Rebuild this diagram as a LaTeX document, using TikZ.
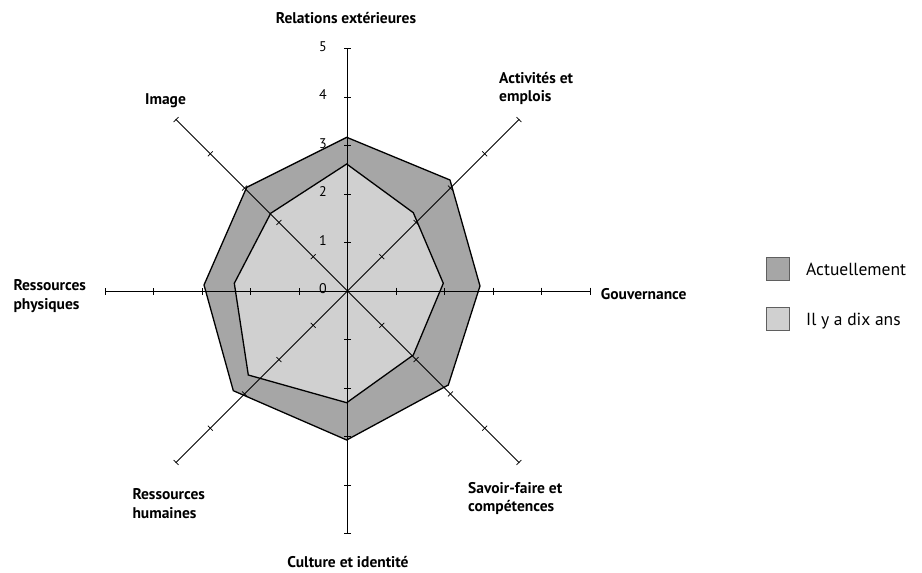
\documentclass[tikz,border=0pt]{standalone}
\usepackage{fontspec}
\setmainfont{PT Sans}
\definecolor{nowfill}{RGB}{166,166,166}
\definecolor{pastfill}{RGB}{208,208,208}
\definecolor{keyedge}{RGB}{95,95,95}
\begin{document}
\begin{tikzpicture}[x=1pt,y=-1pt,
  axisline/.style={line width=0.9pt,black},
  tickline/.style={line width=0.7pt,black},
  polyline/.style={line width=1.3pt,black,line join=miter},
  axislabel/.style={font=\fontsize{15.5}{18.5}\selectfont\bfseries,inner sep=0pt,align=left},
  scalelabel/.style={font=\fontsize{14}{16}\selectfont,inner sep=0pt},
  keybox/.style={draw=keyedge,line width=1pt,minimum size=23pt,inner sep=0pt},
  keytext/.style={font=\fontsize{17.5}{20}\selectfont,inner sep=0pt,anchor=base west}]
\useasboundingbox (0,0) rectangle (922,573);
\coordinate (O) at (347.5,291);

% value polygons: present (dark) under the past (light)
\draw[polyline,fill=nowfill] (346.7,137.3) -- (450,180) -- (480,286) -- (448.3,385)
  -- (346.7,440) -- (233.3,390.7) -- (204,285) -- (246.7,187.3) -- cycle;
\draw[polyline,fill=pastfill] (346.7,164) -- (413.3,212.7) -- (443.3,283.3) -- (413.3,355)
  -- (346.7,402.7) -- (248.3,375) -- (234.3,283.3) -- (270.7,213.3) -- cycle;

% eight axes with unit ticks
\foreach \a in {0,45,...,315}{
  \draw[axisline] (O) -- ++({243*cos(\a)},{-243*sin(\a)}) coordinate (end\a);
  \foreach \k in {1,...,5}{
    \draw[tickline] (O) ++({\k*48.5*cos(\a)-3.5*sin(\a)},{-\k*48.5*sin(\a)-3.5*cos(\a)})
      -- ++({7*sin(\a)},{7*cos(\a)});
  }
}

% scale numbers
\foreach \k in {0,...,5}{
  \node[scalelabel] (n\k) at (323,{291-\k*48.5-2}) {\k};
}

% axis names (base anchor sits on the last line)
\node[axislabel,anchor=base] (rel) at (346,23.3) {Relations extérieures};
\node[axislabel,anchor=base west] (act) at (499,101.7) {Activités et\\emplois};
\node[axislabel,anchor=base] (img) at (165.5,104.5) {Image};
\node[axislabel,anchor=base west] (gov) at (600.7,299.3) {Gouvernance};
\node[axislabel,anchor=base west] (phy) at (13.3,309.3) {Ressources\\physiques};
\node[axislabel,anchor=base west] (hum) at (132.3,518.3) {Ressources\\humaines};
\node[axislabel,anchor=base west] (sav) at (468,511.5) {Savoir-faire et\\compétences};
\node[axislabel,anchor=base] (cul) at (348,567) {Culture et identité};

% key
\node[keybox,fill=nowfill] (k1) at (778.3,268.7) {};
\node[keybox,fill=pastfill] (k2) at (778.3,318.7) {};
\node[keytext] (t1) at (806,275) {Actuellement};
\node[keytext] (t2) at (806,325) {Il y a dix ans};
\end{tikzpicture}
\end{document}
